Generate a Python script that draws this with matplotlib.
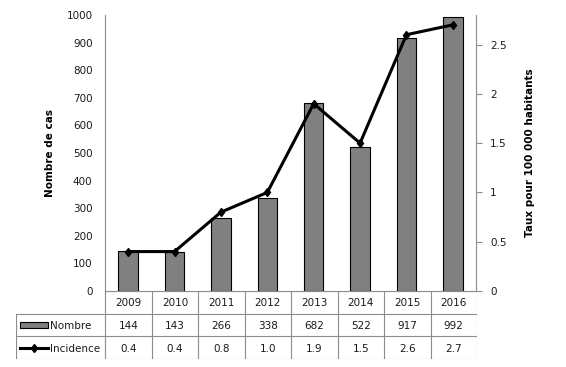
import numpy as np
import matplotlib
matplotlib.use("Agg")
import matplotlib.pyplot as plt
from matplotlib.patches import Rectangle

# data
years = ['2009', '2010', '2011', '2012', '2013', '2014', '2015', '2016']
nombre = [144, 143, 266, 338, 682, 522, 917, 992]
incidence = [0.4, 0.4, 0.8, 1.0, 1.9, 1.5, 2.6, 2.7]
row_labels = ['Nombre', 'Incidence']

grid_col = '#8c8c8c'
txt_col = '#1a1a1a'
fs = 7.5

plt.rcParams['font.family'] = 'DejaVu Sans'

W, H = 566, 367
fig = plt.figure(figsize=(W / 100, H / 100), dpi=100)

# main axes (pixel layout from the reference)
ax = fig.add_axes([105 / W, 1 - 291 / H, 371 / W, 276 / H])
x = np.arange(len(years))
ax.bar(x, nombre, width=0.42, color='#808080', edgecolor='black', linewidth=0.8, zorder=2)
ax.set_xlim(-0.5, len(years) - 0.5)
ax.set_ylim(0, 1000)
ax.set_yticks(np.arange(0, 1001, 100))
ax.set_xticks([])
ax.tick_params(axis='y', length=0, pad=9, labelsize=fs, labelcolor=txt_col)
for s in ['top', 'right']:
    ax.spines[s].set_visible(False)
for s in ['left', 'bottom']:
    ax.spines[s].set_color(grid_col)
    ax.spines[s].set_linewidth(0.8)
ax.set_ylabel('Nombre de cas', fontsize=fs, fontweight='bold', color='black', labelpad=8)

ax2 = ax.twinx()
ax2.plot(x, incidence, color='black', linewidth=2.2, marker='d', markersize=4.5, zorder=3)
ax2.set_ylim(0, 2.8)
ax2.set_yticks([0, 0.5, 1, 1.5, 2, 2.5])
ax2.set_yticklabels(['0', '0.5', '1', '1.5', '2', '2.5'])
ax2.tick_params(axis='y', length=4, color=grid_col, pad=6, labelsize=fs, labelcolor=txt_col)
for s in ['top', 'left', 'bottom']:
    ax2.spines[s].set_visible(False)
ax2.spines['right'].set_color(grid_col)
ax2.spines['right'].set_linewidth(0.8)
ax2.set_ylabel('Taux pour 100 000 habitants', fontsize=fs, fontweight='bold', color='black', labelpad=13)

# data table under the chart
tab = fig.add_axes([16 / W, 1 - 359 / H, 461 / W, 68 / H])
unit = 371 / len(years)
x0 = -0.5 - 89 / unit
tab.set_xlim(x0, len(years) - 0.5)
tab.set_ylim(3, 0)
tab.axis('off')
lw = 0.8
tab.plot([-0.5, len(years) - 0.5], [0, 0], color=grid_col, lw=lw)
for r in [1, 2, 3]:
    tab.plot([x0, len(years) - 0.5], [r, r], color=grid_col, lw=lw)
for i in range(len(years) + 1):
    tab.plot([i - 0.5, i - 0.5], [0, 3], color=grid_col, lw=lw)
tab.plot([x0, x0], [1, 3], color=grid_col, lw=lw)

for i, yr in enumerate(years):
    tab.text(i, 0.55, yr, ha='center', va='center', fontsize=fs, color=txt_col)
    tab.text(i, 1.55, str(nombre[i]), ha='center', va='center', fontsize=fs, color=txt_col)
    tab.text(i, 2.55, '%.1f' % incidence[i], ha='center', va='center', fontsize=fs, color=txt_col)

lab_x = x0 + 33.6 / unit
for r, lab in enumerate(row_labels):
    tab.text(lab_x, r + 1.55, lab, ha='left', va='center', fontsize=fs, color=txt_col)

k0 = x0 + 4 / unit
k1 = x0 + 32 / unit
tab.add_patch(Rectangle((k0, 1.35), k1 - k0, 0.3, facecolor='#808080', edgecolor='black', lw=0.8))
tab.plot([k0, k1], [2.5, 2.5], color='black', lw=2.2)
tab.plot([(k0 + k1) / 2], [2.5], color='black', marker='d', markersize=4.5)

fig.savefig('out.png', dpi=100)
